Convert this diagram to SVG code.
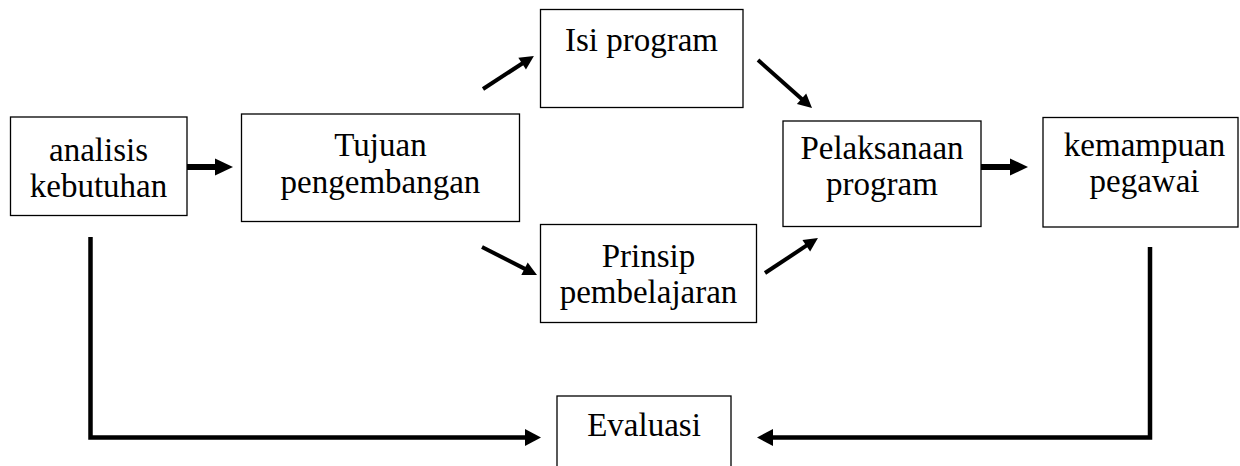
<svg xmlns="http://www.w3.org/2000/svg" width="1240" height="466" viewBox="0 0 1240 466">
<style>
.box{fill:#fff;stroke:#000;stroke-width:1.3}
.t{font-family:"Liberation Serif","Times New Roman",serif;font-size:33px;fill:#000;text-anchor:middle}
.thick{stroke:#000;stroke-width:6;fill:none}
.diag{stroke:#000;stroke-width:4;fill:none}
.ell{stroke:#000;stroke-width:4.5;fill:none;stroke-linejoin:miter}
</style>
<defs>
<marker id="hBig" markerUnits="userSpaceOnUse" markerWidth="19" markerHeight="18" refX="1" refY="8.5" orient="auto" overflow="visible"><path d="M0,0 L18,8.5 L0,17 z" fill="#000"/></marker>
<marker id="hMid" markerUnits="userSpaceOnUse" markerWidth="17" markerHeight="17" refX="1" refY="8.5" orient="auto" overflow="visible"><path d="M0,0 L16,8.5 L0,17 z" fill="#000"/></marker>
<marker id="hSm" markerUnits="userSpaceOnUse" markerWidth="15" markerHeight="15" refX="1" refY="7" orient="auto" overflow="visible"><path d="M0,0 L14,7 L0,14 z" fill="#000"/></marker>
</defs>
<g id="connectors">
<line class="thick" x1="187" y1="167" x2="216" y2="167" marker-end="url(#hBig)"/>
<line class="thick" x1="981" y1="167" x2="1011" y2="167" marker-end="url(#hBig)"/>
<line class="diag" x1="483" y1="89" x2="523" y2="63" marker-end="url(#hSm)"/>
<line class="diag" x1="482" y1="247" x2="525.4" y2="269.1" marker-end="url(#hSm)"/>
<line class="diag" x1="758" y1="60" x2="802.3" y2="99.4" marker-end="url(#hSm)"/>
<line class="diag" x1="765" y1="273" x2="807.1" y2="245.2" marker-end="url(#hSm)"/>
<path class="ell" d="M90.5,237 V437.5 H526" marker-end="url(#hMid)"/>
<path class="ell" d="M1150,247 V437.5 H772" marker-end="url(#hMid)"/>
</g>
<g id="analisis"><rect class="box" x="10.5" y="117" width="176.5" height="98.5"/><text class="t" x="98.5" y="161">analisis</text><text class="t" x="98.5" y="197">kebutuhan</text></g>
<g id="tujuan"><rect class="box" x="241.5" y="114" width="278" height="107.5"/><text class="t" x="380.5" y="156">Tujuan</text><text class="t" x="380.5" y="193">pengembangan</text></g>
<g id="isi"><rect class="box" x="540.5" y="9.5" width="202.5" height="98"/><text class="t" x="641.5" y="51">Isi program</text></g>
<g id="prinsip"><rect class="box" x="540.5" y="224.5" width="216" height="98"/><text class="t" x="648.5" y="267">Prinsip</text><text class="t" x="648.5" y="303">pembelajaran</text></g>
<g id="pelaksanaan"><rect class="box" x="783" y="121" width="198" height="105.5"/><text class="t" x="882" y="159">Pelaksanaan</text><text class="t" x="882" y="195">program</text></g>
<g id="kemampuan"><rect class="box" x="1043" y="117.5" width="195" height="109.5"/><text class="t" x="1144.5" y="156">kemampuan</text><text class="t" x="1144.5" y="192">pegawai</text></g>
<g id="evaluasi"><rect class="box" x="557" y="396" width="174" height="80"/><text class="t" x="644" y="436">Evaluasi</text></g>
</svg>
